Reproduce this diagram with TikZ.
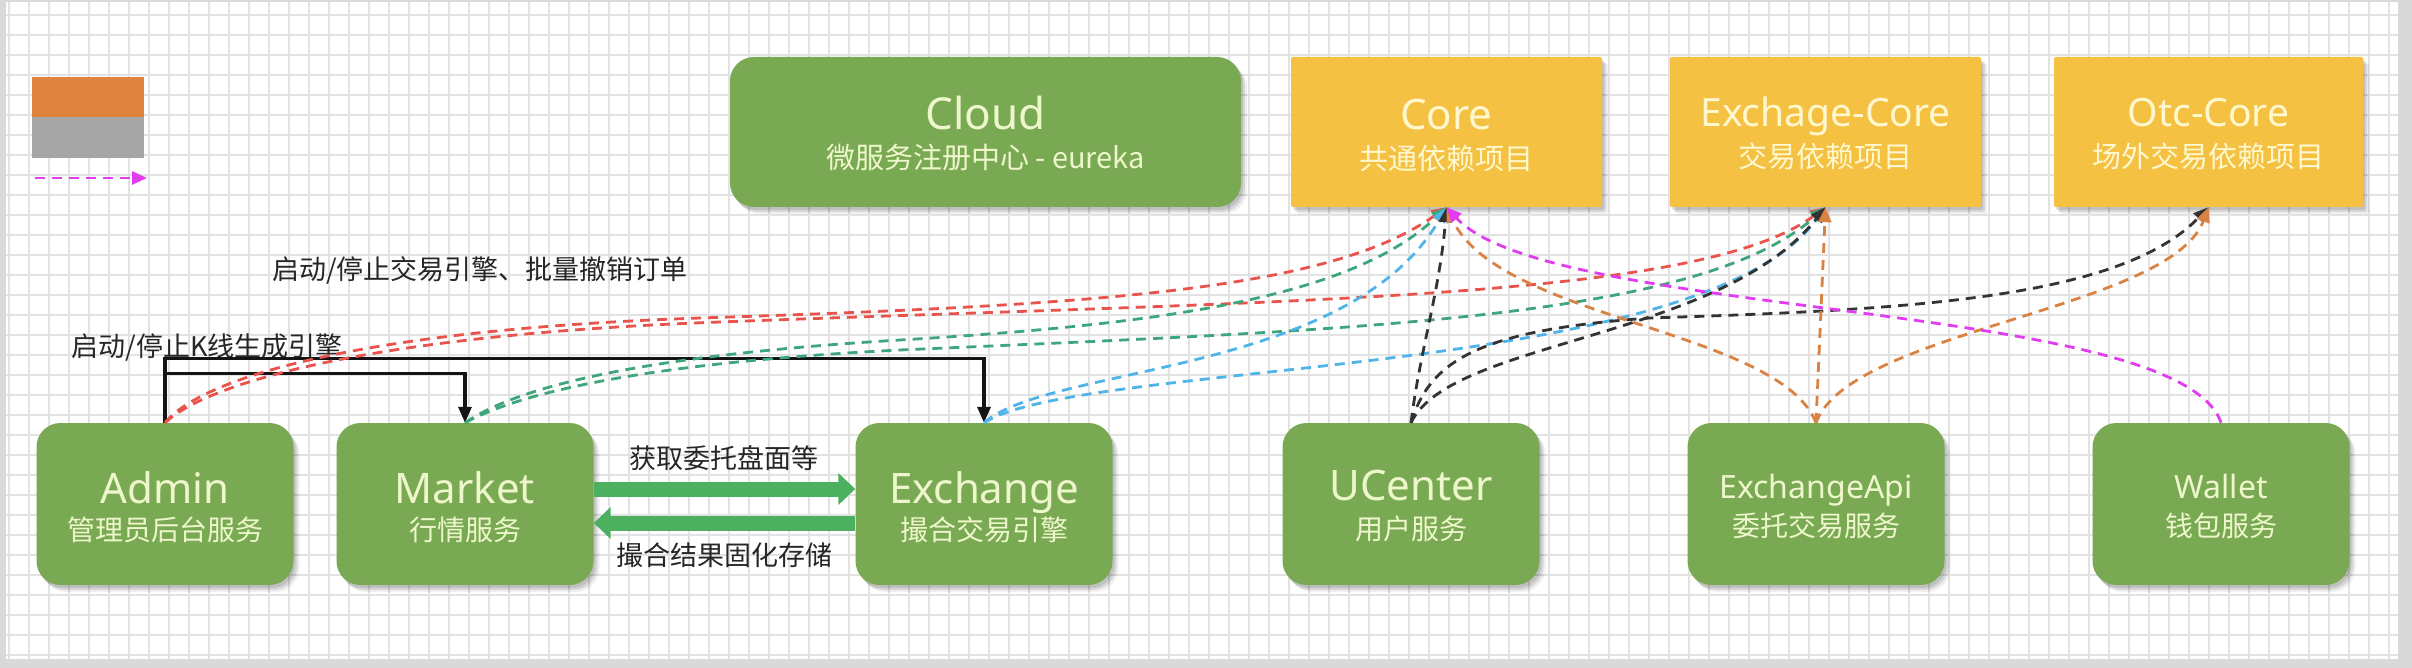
\documentclass[tikz,border=0pt]{standalone}
\usepackage{fontspec}
\setmainfont{Noto Sans}
\newfontfamily\cjk{Noto Sans CJK SC}
\usetikzlibrary{arrows.meta,shadows}
\definecolor{bordergray}{HTML}{D9D9D9}
\definecolor{gridgray}{HTML}{E2E2E2}
\definecolor{boxgreen}{HTML}{79A952}
\definecolor{boxyellow}{HTML}{F4C142}
\definecolor{greentext}{HTML}{EEF7CC}
\definecolor{yellowtext}{HTML}{FFF8CF}
\definecolor{legorange}{HTML}{E0833F}
\definecolor{leggray}{HTML}{A6A6A6}
\definecolor{cmag}{HTML}{E13CF0}
\definecolor{cred}{HTML}{E8534B}
\definecolor{cgreen}{HTML}{3EA67A}
\definecolor{cblue}{HTML}{4FB4E8}
\definecolor{cblack}{HTML}{333333}
\definecolor{corange}{HTML}{D98243}
\definecolor{arrowgreen}{HTML}{4DB060}
\definecolor{labeltext}{HTML}{262626}
\begin{document}
\begin{tikzpicture}[x=1pt,y=-1pt,
  softshadow/.style={
    drop shadow={shadow xshift=2pt,shadow yshift=-3pt,opacity=0.10,fill=black},
    drop shadow={shadow xshift=4pt,shadow yshift=-5pt,opacity=0.10,fill=black},
    drop shadow={shadow xshift=6pt,shadow yshift=-7pt,opacity=0.06,fill=black}},
  gbox/.style={fill=boxgreen, rounded corners=24pt, minimum width=257pt, minimum height=162pt, inner sep=0pt, softshadow},
  cbox/.style={fill=boxgreen, rounded corners=24pt, minimum width=511pt, minimum height=150pt, inner sep=0pt, softshadow},
  ybox/.style={fill=boxyellow, rounded corners=2pt, minimum width=311pt, minimum height=150pt, inner sep=0pt, softshadow},
  gttl/.style={text=greentext, font=\fontsize{42}{50}\selectfont, anchor=base, inner sep=0pt},
  gttlsmall/.style={text=greentext, font=\fontsize{32}{38}\selectfont, anchor=base, inner sep=0pt},
  gsub/.style={text=greentext, font=\cjk\fontsize{28}{34}\selectfont, anchor=base, inner sep=0pt},
  yttl/.style={text=yellowtext, font=\fontsize{39}{46}\selectfont, anchor=base, inner sep=0pt},
  ysub/.style={text=yellowtext, font=\cjk\fontsize{29}{34}\selectfont, anchor=base, inner sep=0pt},
  lbl/.style={text=labeltext, font=\cjk\fontsize{27}{31}\selectfont, anchor=base, inner sep=0pt},
  legrect/.style={minimum width=112pt, inner sep=0pt, draw=none},
  dline/.style={line width=2.8pt, dash pattern=on 10pt off 7pt, -{Triangle[length=15pt,width=13pt]}},
  bline/.style={line width=3.2pt, draw=black!92, line join=miter, -{Triangle[length=16pt,width=13pt]}},
  bigarrow/.style={draw=arrowgreen, line width=15pt, -{Triangle[length=17pt,width=31pt]}},
  gridline/.style={draw=gridgray, line width=1.6pt}
]
\useasboundingbox (0,0) rectangle (2412,668);
\fill[bordergray] (0,0) rectangle (2412,668);
\fill[white] (6,2) rectangle (2398,659);
\foreach \gx in {9,29,...,2389} \draw[gridline] (\gx,2) -- (\gx,659);
\foreach \gy in {15,35,...,655} \draw[gridline] (6,\gy) -- (2398,\gy);

% legend
\node[legrect, fill=legorange, minimum height=40pt] (leg-o) at (88,97) {};
\node[legrect, fill=leggray, minimum height=41pt] (leg-g) at (88,137.5) {};
\coordinate (leg-a) at (35,178);
\coordinate (leg-b) at (147,178);
\draw[dline, cmag] (leg-a) -- (leg-b);

% top boxes
\node[cbox] (cloud) at (985.5,132) {};
\node[ybox] (core) at (1446.5,132) {};
\node[ybox] (excore) at (1825.5,132) {};
\node[ybox, minimum width=309pt] (otc) at (2208.5,132) {};

\node[gttl, font=\fontsize{44}{50}\selectfont] (cloud-t) at (985.5,130) {Cloud};
\node[gsub, font=\cjk\fontsize{29}{34}\selectfont] (cloud-s) at (985.5,169) {微服务注册中心 - eureka};
\node[yttl, font=\fontsize{42}{50}\selectfont] (core-t) at (1446.5,130) {Core};
\node[ysub] (core-s) at (1446.5,170) {共通依赖项目};
\node[yttl] (excore-t) at (1825.5,127) {Exchage-Core};
\node[ysub] (excore-s) at (1825.5,168) {交易依赖项目};
\node[yttl] (otc-t) at (2208.5,127) {Otc-Core};
\node[ysub] (otc-s) at (2208.5,168) {场外交易依赖项目};

% bottom boxes
\node[gbox] (admin) at (165,504) {};
\node[gbox] (market) at (465,504) {};
\node[gbox] (exchange) at (984,504) {};
\node[gbox] (ucenter) at (1411,504) {};
\node[gbox] (exapi) at (1816,504) {};
\node[gbox] (wallet) at (2221,504) {};

\node[gttl] (admin-t) at (165,503) {Admin};
\node[gsub] (admin-s) at (165,540) {管理员后台服务};
\node[gttl] (market-t) at (465,503) {Market};
\node[gsub] (market-s) at (465,540) {行情服务};
\node[gttl] (exchange-t) at (984,503) {Exchange};
\node[gsub] (exchange-s) at (984,540) {撮合交易引擎};
\node[gttl] (ucenter-t) at (1411,500) {UCenter};
\node[gsub] (ucenter-s) at (1411,539) {用户服务};
\node[gttlsmall] (exapi-t) at (1816,498) {ExchangeApi};
\node[gsub] (exapi-s) at (1816,536) {委托交易服务};
\node[gttlsmall] (wallet-t) at (2221,498) {Wallet};
\node[gsub] (wallet-s) at (2221,536) {钱包服务};

% labels
\node[lbl] (lbl-engine) at (480,280) {启动/停止交易引擎、批量撤销订单};
\node[lbl] (lbl-kline) at (207,356) {启动/停止K线生成引擎};
\node[lbl] (lbl-fetch) at (724,468) {获取委托盘面等};
\node[lbl] (lbl-store) at (724,565) {撮合结果固化存储};

% black solid connectors
\draw[bline] (admin.north) -- ([yshift=64pt]admin.north) -| (exchange.north);
\draw[bline] ([yshift=49pt]admin.north) -| (market.north);

% big green arrows
\draw[bigarrow] ([yshift=15pt]market.east) -- ([yshift=15pt]exchange.west);
\draw[bigarrow] ([yshift=-19pt]exchange.west) -- ([yshift=-19pt]market.east);

% dependency curves
\draw[dline, cred] (admin.north) .. controls (200,380) and (350,330) .. (700,318) .. controls (1100,305) and (1330,290) .. (core.south);
\draw[dline, cred] (admin.north) .. controls (205,385) and (360,335) .. (720,322) .. controls (1300,300) and (1700,300) .. (excore.south);
\draw[dline, cgreen] (market.north) .. controls (520,385) and (650,355) .. (900,340) .. controls (1150,325) and (1350,300) .. (core.south);
\draw[dline, cgreen] (market.north) .. controls (525,390) and (660,362) .. (900,350) .. controls (1350,330) and (1700,320) .. (excore.south);
\draw[dline, cblue] (exchange.north) .. controls (1050,365) and (1350,375) .. (core.south);
\draw[dline, cblue] (exchange.north) .. controls (1080,360) and (1700,380) .. (excore.south);
\draw[dline, cblack] (ucenter.north) .. controls (1420,350) and (1440,290) .. (core.south);
\draw[dline, cblack] (ucenter.north) .. controls (1450,340) and (1720,340) .. (excore.south);
\draw[dline, cblack] (ucenter.north) .. controls (1430,360) and (1480,330) .. (1650,318) .. controls (1900,310) and (2120,300) .. (otc.south);
\draw[dline, corange] (exapi.north) .. controls (1780,330) and (1500,320) .. (core.south);
\draw[dline, corange] (exapi.north) -- (excore.south);
\draw[dline, corange] (exapi.north) .. controls (1850,330) and (2170,310) .. (otc.south);
\draw[dline, cmag] (wallet.north) .. controls (2180,300) and (1550,320) .. (core.south);
\end{tikzpicture}
\end{document}
